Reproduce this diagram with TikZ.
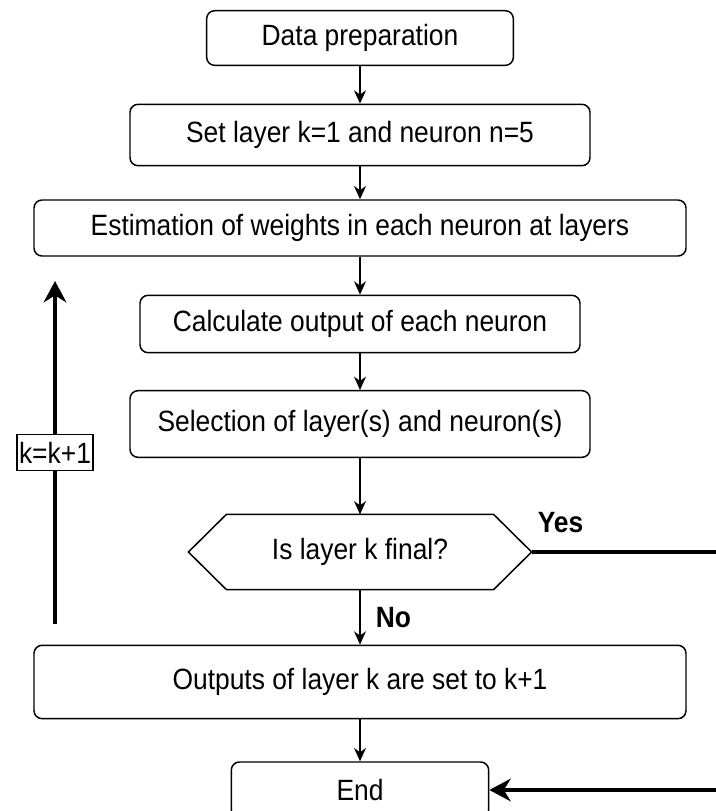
\documentclass[tikz,border=0pt]{standalone}
\usepackage{fontspec}
\setmainfont{Liberation Sans}[FakeStretch=0.9]
\usetikzlibrary{arrows.meta}
\tikzstyle{box} = [draw=black, line width=1.1pt, rounded corners=6pt, font=\fontsize{22}{26}\selectfont]
\tikzstyle{hex} = [font=\fontsize{22}{26}\selectfont, minimum width=257pt, minimum height=56pt]
\tikzstyle{flow} = [-{Stealth[length=10pt,width=9pt]}, line width=1pt]
\tikzstyle{jump} = [-{Stealth[length=16pt,width=17pt]}, line width=2.6pt]
\tikzstyle{tag} = [font=\bfseries\fontsize{22}{26}\selectfont]
\tikzstyle{counter} = [draw=black, fill=white, line width=1.1pt, inner xsep=1.5pt, minimum height=27pt, font=\fontsize{22}{26}\selectfont]

\begin{document}
\begin{tikzpicture}[x=0.75pt,y=-0.75pt]
    \useasboundingbox (0,0) rectangle (715,811);
    \node[box,minimum width=230pt,minimum height=41pt](0) at (360,38){Data preparation};
    \node[box,minimum width=345pt,minimum height=46pt](1) at (360,135){Set layer k=1 and neuron n=5};
    \node[box,minimum width=489pt,minimum height=42pt](2) at (360,228){Estimation of weights in each neuron at layers};
    \node[box,minimum width=330pt,minimum height=43pt](3) at (360,324){Calculate output of each neuron};
    \node[box,minimum width=345pt,minimum height=50pt](4) at (360,424){Selection of layer(s) and neuron(s)};
    \node[hex](5) at (360,552){Is layer k final?};
    \node[box,minimum width=489pt,minimum height=55pt](6) at (360,682){Outputs of layer k are set to k+1};
    \node[box,minimum width=193pt,minimum height=42pt](7) at (360,790){End};
    \coordinate(8) at (55,624);
    \coordinate(9) at (55,281);
    \coordinate(10) at (740,552);
    \draw[line width=1.1pt](5.west)--([xshift=28.5pt]5.north west)--([xshift=-28.5pt]5.north east)--(5.east)
        --([xshift=-28.5pt]5.south east)--([xshift=28.5pt]5.south west)--cycle;
    \draw[flow](0)--(1);
    \draw[flow](1)--(2);
    \draw[flow](2)--(3);
    \draw[flow](3)--(4);
    \draw[flow](4)--(5);
    \draw[flow](5)--node[tag,right,xshift=8pt]{No}(6);
    \draw[flow](6)--(7);
    \draw[jump](8)--node[counter]{k=k+1}(9);
    \draw[jump](5.east)--node[tag,pos=0,above right,yshift=10pt]{Yes}(10)|-(7.east);
  \end{tikzpicture}
\end{document}
